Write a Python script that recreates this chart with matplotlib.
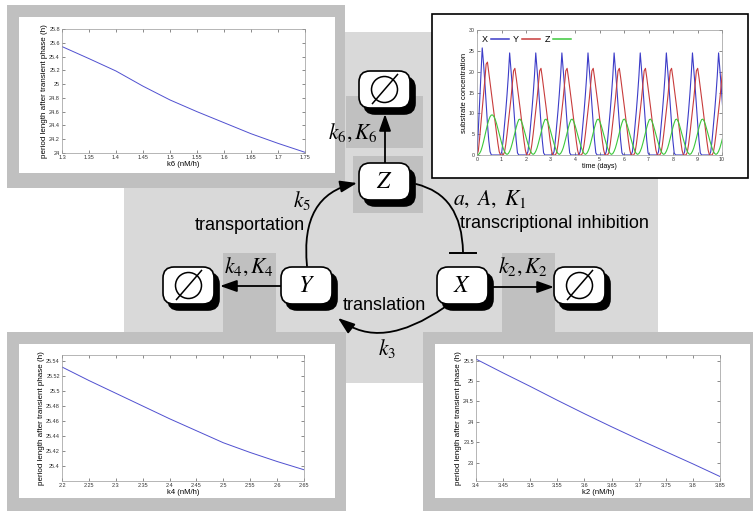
import numpy as np
import matplotlib.pyplot as plt
from matplotlib.patches import Rectangle, FancyBboxPatch, Circle, FancyArrowPatch
from matplotlib.path import Path
from matplotlib.ticker import FuncFormatter

plt.rcParams['font.family'] = ['Liberation Sans', 'DejaVu Sans']
plt.rcParams['mathtext.fontset'] = 'stix'

W, H = 753, 511

# period length vs. parameter (three small panels)
k6 = [1.30, 1.35, 1.40, 1.45, 1.50, 1.55, 1.60, 1.65, 1.70, 1.75]
period_k6 = [25.545, 25.37, 25.19, 24.97, 24.77, 24.60, 24.44, 24.28, 24.14, 24.01]

k4 = [2.20, 2.25, 2.30, 2.35, 2.40, 2.45, 2.50, 2.55, 2.60, 2.65]
period_k4 = [25.532, 25.514, 25.497, 25.480, 25.463, 25.447, 25.431, 25.418, 25.406, 25.395]

k2 = [3.40, 3.45, 3.50, 3.55, 3.60, 3.65, 3.70, 3.75, 3.80, 3.85]
period_k2 = [25.54, 25.20, 24.87, 24.53, 24.20, 23.88, 23.57, 23.27, 22.97, 22.66]

# time course, sampled every 0.0533 days
time_days = np.arange(189) * 0.0533
x_conc = [0.5, 6, 12.5, 19.5, 25.7, 22, 17.5, 12.5, 7.5, 3.5, 0.8, 0, 0, 0, 0, 0, 0, 0,
          0, 0.8, 3.5, 7, 10.5, 14.5, 19, 24.5, 20.5, 16.5, 12, 7.5, 3.5, 0.5, 0, 0, 0, 0, 0, 0,
          0, 0.8, 3.5, 7, 10.5, 14.5, 19, 24.5, 20.5, 16.5, 12, 7.5, 3.5, 0.5, 0, 0, 0, 0, 0, 0,
          0, 0.8, 3.5, 7, 10.5, 14.5, 19, 24.5, 20.5, 16.5, 12, 7.5, 3.5, 0.5, 0, 0, 0, 0, 0, 0,
          0, 0.8, 3.5, 7, 10.5, 14.5, 19, 24.5, 20.5, 16.5, 12, 7.5, 3.5, 0.5, 0, 0, 0, 0, 0, 0,
          0, 0.8, 3.5, 7, 10.5, 14.5, 19, 24.5, 20.5, 16.5, 12, 7.5, 3.5, 0.5, 0, 0, 0, 0, 0, 0,
          0, 0.8, 3.5, 7, 10.5, 14.5, 19, 24.5, 20.5, 16.5, 12, 7.5, 3.5, 0.5, 0, 0, 0, 0, 0, 0,
          0, 0.8, 3.5, 7, 10.5, 14.5, 19, 24.5, 20.5, 16.5, 12, 7.5, 3.5, 0.5, 0, 0, 0, 0, 0, 0,
          0, 0.8, 3.5, 7, 10.5, 14.5, 19, 24.5, 20.5, 16.5, 12, 7.5, 3.5, 0.5, 0, 0, 0, 0, 0, 0,
          0, 0.8, 3.5, 7, 10.5, 14.5, 19, 24.5, 20.5, 16.5, 12]
y_conc = [0, 1.0, 4, 7.5, 11, 14.5, 18, 21.8, 22.3, 19.8, 17.2, 14.8, 12.4, 10, 7.6, 5.2, 2.8, 0.8,
          0, 0, 0, 0.6, 2.5, 5, 7.8, 10.5, 13.5, 16.8, 20.2, 20.8, 18.6, 16.2, 13.7, 11.2, 8.6, 6.0, 3.4, 1.2,
          0, 0, 0, 0.6, 2.5, 5, 7.8, 10.5, 13.5, 16.8, 20.2, 20.8, 18.6, 16.2, 13.7, 11.2, 8.6, 6.0, 3.4, 1.2,
          0, 0, 0, 0.6, 2.5, 5, 7.8, 10.5, 13.5, 16.8, 20.2, 20.8, 18.6, 16.2, 13.7, 11.2, 8.6, 6.0, 3.4, 1.2,
          0, 0, 0, 0.6, 2.5, 5, 7.8, 10.5, 13.5, 16.8, 20.2, 20.8, 18.6, 16.2, 13.7, 11.2, 8.6, 6.0, 3.4, 1.2,
          0, 0, 0, 0.6, 2.5, 5, 7.8, 10.5, 13.5, 16.8, 20.2, 20.8, 18.6, 16.2, 13.7, 11.2, 8.6, 6.0, 3.4, 1.2,
          0, 0, 0, 0.6, 2.5, 5, 7.8, 10.5, 13.5, 16.8, 20.2, 20.8, 18.6, 16.2, 13.7, 11.2, 8.6, 6.0, 3.4, 1.2,
          0, 0, 0, 0.6, 2.5, 5, 7.8, 10.5, 13.5, 16.8, 20.2, 20.8, 18.6, 16.2, 13.7, 11.2, 8.6, 6.0, 3.4, 1.2,
          0, 0, 0, 0.6, 2.5, 5, 7.8, 10.5, 13.5, 16.8, 20.2, 20.8, 18.6, 16.2, 13.7, 11.2, 8.6, 6.0, 3.4, 1.2,
          0, 0, 0, 0.6, 2.5, 5, 7.8, 10.5, 13.5, 16.8, 20.2]
z_conc = [0, 0.1, 0.4, 1.0, 2.0, 3.2, 4.6, 6.0, 7.3, 8.4, 9.2, 9.6, 9.6, 9.2, 8.5, 7.5, 6.3, 5.0,
          3.8, 2.7, 1.7, 0.9, 0.35, 0.15, 0.35, 0.9, 1.7, 2.8, 4.0, 5.3, 6.6, 7.7, 8.5, 8.6, 8.1, 7.2, 6.1, 4.9,
          3.8, 2.7, 1.7, 0.9, 0.35, 0.15, 0.35, 0.9, 1.7, 2.8, 4.0, 5.3, 6.6, 7.7, 8.5, 8.6, 8.1, 7.2, 6.1, 4.9,
          3.8, 2.7, 1.7, 0.9, 0.35, 0.15, 0.35, 0.9, 1.7, 2.8, 4.0, 5.3, 6.6, 7.7, 8.5, 8.6, 8.1, 7.2, 6.1, 4.9,
          3.8, 2.7, 1.7, 0.9, 0.35, 0.15, 0.35, 0.9, 1.7, 2.8, 4.0, 5.3, 6.6, 7.7, 8.5, 8.6, 8.1, 7.2, 6.1, 4.9,
          3.8, 2.7, 1.7, 0.9, 0.35, 0.15, 0.35, 0.9, 1.7, 2.8, 4.0, 5.3, 6.6, 7.7, 8.5, 8.6, 8.1, 7.2, 6.1, 4.9,
          3.8, 2.7, 1.7, 0.9, 0.35, 0.15, 0.35, 0.9, 1.7, 2.8, 4.0, 5.3, 6.6, 7.7, 8.5, 8.6, 8.1, 7.2, 6.1, 4.9,
          3.8, 2.7, 1.7, 0.9, 0.35, 0.15, 0.35, 0.9, 1.7, 2.8, 4.0, 5.3, 6.6, 7.7, 8.5, 8.6, 8.1, 7.2, 6.1, 4.9,
          3.8, 2.7, 1.7, 0.9, 0.35, 0.15, 0.35, 0.9, 1.7, 2.8, 4.0, 5.3, 6.6, 7.7, 8.5, 8.6, 8.1, 7.2, 6.1, 4.9,
          3.8, 2.7, 1.7, 0.9, 0.35, 0.15, 0.35, 0.9, 1.7, 2.8, 4.0]

LIGHT = '#d9d9d9'
DARK = '#c0c0c0'
FMT = FuncFormatter(lambda v, p: f'{v:g}')

fig = plt.figure(figsize=(W / 100, H / 100), dpi=100)
bg = fig.add_axes([0, 0, 1, 1])
bg.set_xlim(0, W)
bg.set_ylim(H, 0)
bg.axis('off')


def px_axes(x0, y0, x1, y1):
    return fig.add_axes([x0 / W, 1 - y1 / H, (x1 - x0) / W, (y1 - y0) / H])


def rect(x0, y0, x1, y1, **kw):
    bg.add_patch(Rectangle((x0, y0), x1 - x0, y1 - y0, **kw))


# background panels
rect(124, 32, 658, 383, fc=LIGHT, ec='none', zorder=1)
for (x0, y0, x1, y1), (ix0, iy0, ix1, iy1) in [((7, 5, 345, 188), (19, 17, 335, 173)),
                                                ((7, 332, 346, 511), (19, 344, 335, 498)),
                                                ((423, 332, 753, 511), (435, 344, 750, 498))]:
    rect(x0, y0, x1, y1, fc=DARK, ec='none', zorder=2)
    rect(ix0, iy0, ix1, iy1, fc='white', ec='none', zorder=2)
for x0, y0, x1, y1 in [(346, 96, 423, 148), (353, 156, 423, 213),
                       (223, 253, 276, 332), (502, 253, 555, 332)]:
    rect(x0, y0, x1, y1, fc=DARK, ec='none', zorder=2)
rect(432, 14, 748, 178, fc='white', ec='black', lw=1.2, zorder=2)


# nodes of the network
def node(x, y, label=None):
    style = 'round,pad=0,rounding_size=11'
    bg.add_patch(FancyBboxPatch((x + 5, y + 6), 51, 37, boxstyle=style,
                                fc='black', ec='black', lw=1.2, zorder=4))
    bg.add_patch(FancyBboxPatch((x, y), 51, 37, boxstyle=style,
                                fc='white', ec='black', lw=1.2, zorder=5))
    cx, cy = x + 25.5, y + 18.5
    if label is None:
        bg.add_patch(Circle((cx, cy), 13, fill=False, ec='black', lw=1.1, zorder=6))
        bg.plot([cx - 12, cx + 13], [cy + 14, cy - 15], color='black', lw=1.1, zorder=6)
    else:
        bg.text(cx, cy + 1, label, fontsize=17, ha='center', va='center', zorder=6)


node(359, 71)
node(359, 163, r'$Z$')
node(281, 267, r'$Y$')
node(437, 267, r'$X$')
node(163, 267)
node(554, 267)

head = '-|>,head_length=0.85,head_width=0.3'


def arrow(verts, style=head):
    codes = [Path.MOVETO] + [Path.CURVE3] * (len(verts) - 1) if len(verts) == 3 else [Path.MOVETO, Path.LINETO]
    bg.add_patch(FancyArrowPatch(path=Path(verts, codes), arrowstyle=style,
                                 mutation_scale=12, lw=1.3, color='black', zorder=3))


arrow([(385, 163), (385, 114)])
arrow([(281, 286), (220, 286)])
arrow([(493, 287), (554, 287)])
arrow([(307, 266), (300, 195), (357, 183)])
arrow([(445, 307), (380.5, 351.5), (338, 318)])
arrow([(416, 184), (462, 195), (463, 252)], style='-')
bg.plot([450, 476], [253, 253], color='black', lw=1.4, zorder=3)

# labels
serif = dict(fontsize=15.5, ha='center', va='center', zorder=6)
bg.text(353, 133, r'$k_6,K_6$', **serif)
bg.text(302, 201, r'$k_5$', **serif)
bg.text(490, 199, r'$a,\ A,\ K_1$', **serif)
bg.text(249, 267, r'$k_4,K_4$', **serif)
bg.text(523, 267, r'$k_2,K_2$', **serif)
bg.text(387, 348, r'$k_3$', **serif)
sans = dict(fontsize=13, va='center', zorder=6)
bg.text(250, 225, 'transportation', ha='center', **sans)
bg.text(460, 223, 'transcriptional inhibition', ha='left', **sans)
bg.text(384, 305, 'translation', ha='center', **sans)


def style_axes(ax, labelsize=4):
    ax.tick_params(direction='in', length=2, width=0.4, top=True, right=True,
                   labelsize=labelsize, pad=1.5, colors='#333333')
    for s in ax.spines.values():
        s.set_color('#999999')
        s.set_linewidth(0.5)
    ax.xaxis.set_major_formatter(FMT)
    ax.yaxis.set_major_formatter(FMT)


def period_panel(box, xs, ys, xlim, ylim, yticks, xlabel):
    ax = px_axes(*box)
    ax.plot(xs, ys, color='#5050d0', lw=0.7)
    ax.set_xlim(*xlim)
    ax.set_ylim(*ylim)
    ax.set_xticks(xs)
    ax.set_yticks(yticks)
    style_axes(ax)
    ax.set_xlabel(xlabel, fontsize=5.5, labelpad=1)
    ax.set_ylabel('period length after transient phase (h)', fontsize=5.8, labelpad=1)
    return ax


period_panel((62, 29, 305, 153), k6, period_k6, (1.3, 1.75), (24, 25.8),
             [24, 24.2, 24.4, 24.6, 24.8, 25, 25.2, 25.4, 25.6, 25.8], 'k6 (nM/h)')
period_panel((62, 355, 304, 481), k4, period_k4, (2.2, 2.65), (25.38, 25.548),
             [25.4, 25.42, 25.44, 25.46, 25.48, 25.5, 25.52, 25.54], 'k4 (nM/h)')
period_panel((476, 355, 720, 481), k2, period_k2, (3.4, 3.85), (22.55, 25.64),
             [23, 23.5, 24, 24.5, 25, 25.5], 'k2 (nM/h)')

ax = px_axes(477, 30, 722, 155)
ax.plot(time_days, x_conc, color='#3c3cc8', lw=0.8, label='X')
ax.plot(time_days, y_conc, color='#c83c3c', lw=0.8, label='Y')
ax.plot(time_days, z_conc, color='#3cc83c', lw=0.8, label='Z')
ax.set_xlim(0, 10)
ax.set_ylim(0, 30)
ax.set_xticks(range(0, 11))
ax.set_yticks(range(0, 31, 5))
style_axes(ax, labelsize=3.8)
ax.set_xlabel('time (days)', fontsize=5, labelpad=1)
ax.set_ylabel('substrate concentration', fontsize=5.5, labelpad=1)
leg = ax.legend(loc='upper left', ncol=3, frameon=False, markerfirst=False, fontsize=6.5,
                handlelength=2.0, handletextpad=0.3, columnspacing=0.5, borderaxespad=0.15)
for line in leg.get_lines():
    line.set_linewidth(1.1)

fig.savefig('out.png', dpi=100)
